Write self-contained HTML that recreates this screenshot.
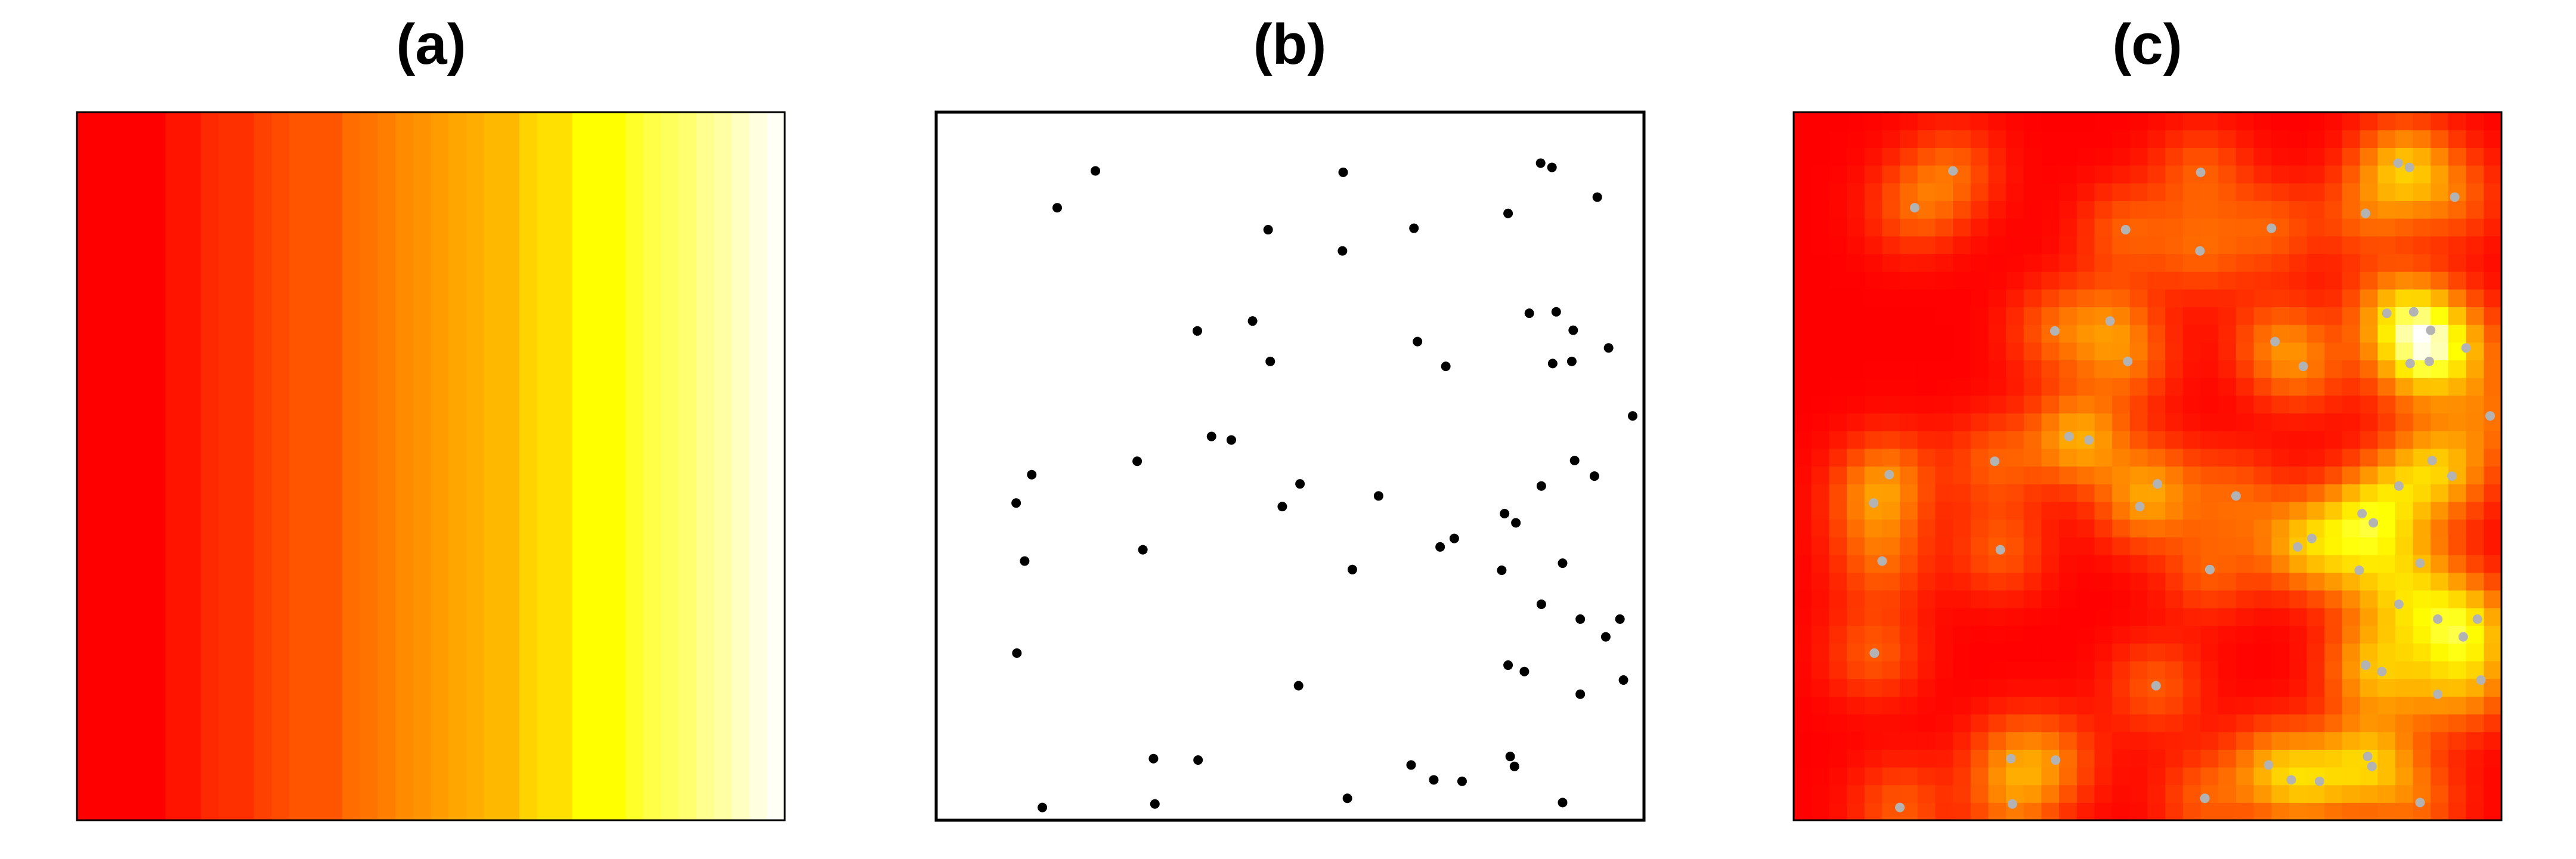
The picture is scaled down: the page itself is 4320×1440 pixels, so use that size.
<!DOCTYPE html>
<html><head><meta charset="utf-8"><style>html,body{margin:0;padding:0;background:#fff}svg{display:block}</style></head>
<body>
<svg id="fig" width="4320" height="1440" viewBox="0 0 4320 1440" xmlns="http://www.w3.org/2000/svg">
<text x="723" y="107" text-anchor="middle" font-family="Liberation Sans, sans-serif" font-weight="bold" font-size="96">(a)</text>
<text x="2163" y="107" text-anchor="middle" font-family="Liberation Sans, sans-serif" font-weight="bold" font-size="96">(b)</text>
<text x="3601" y="107" text-anchor="middle" font-family="Liberation Sans, sans-serif" font-weight="bold" font-size="96">(c)</text>
<g id="pa"></g>
<g id="pb"></g>
<g id="pc"></g>
</svg>
<script>
// panel (a): colour level per column (0..1)
const aLevels = [0,0,0,0,0,0.06,0.06,0.12,0.14,0.14,0.19,0.22,0.25,0.25,0.25,0.32,0.34,0.37,0.41,0.43,0.46,0.49,0.51,0.54,0.54,0.62,0.66,0.66,0.75,0.75,0.75,0.79,0.82,0.84,0.86,0.89,0.91,0.94,0.97,0.99];
// point pattern (unit square), shared by (b) and (c)
const ptX = [.225,.171,.575,.854,.870,.934,.808,.469,.675,.574,.838,.876,.900,.950,.369,.447,.680,.472,.720,.871,.898,.984,.389,.417,.284,.902,.135,.930,.514,.855,.113,.625,.489,.803,.819,.732,.712,.292,.125,.588,.799,.885,.855,.910,.966,.946,.114,.808,.831,.971,.512,.910,.307,.370,.671,.811,.817,.703,.743,.150,.309,.581,.885];
const ptY = [.917,.865,.915,.928,.922,.880,.857,.834,.836,.804,.716,.718,.692,.667,.691,.705,.676,.648,.641,.645,.648,.571,.542,.537,.507,.508,.488,.486,.475,.472,.448,.458,.443,.433,.420,.398,.386,.382,.366,.354,.353,.363,.305,.284,.284,.259,.236,.219,.210,.198,.190,.178,.087,.085,.078,.090,.076,.057,.055,.018,.023,.031,.025];
const NGRID = 40;
const BW = 0.047;

const NS = 'http://www.w3.org/2000/svg';
function heat(t){
  t=Math.max(0,Math.min(1,t));
  if(t<=0.75){const g=Math.round(255*t/0.75);return `rgb(255,${g},0)`;}
  const b=Math.round(255*(t-0.75)/0.25);return `rgb(255,255,${b})`;
}
function mk(tag,attrs,parent){const e=document.createElementNS(NS,tag);for(const k in attrs)e.setAttribute(k,attrs[k]);parent.appendChild(e);return e;}
const Y0=188,SIZE=1187;
function axis(x0){return {x:v=>x0+v*SIZE,y:v=>Y0+(1-v)*SIZE};}

// panel a
const A=axis(129), pa=document.getElementById('pa');
const cw=1/aLevels.length;
aLevels.forEach((t,i)=>{
  const r=mk('rect',{x:A.x(i*cw),y:A.y(1),width:A.x((i+1)*cw)-A.x(i*cw)+0.6,height:SIZE,fill:heat(t)},pa);
  
  
});
const fa=mk('rect',{x:A.x(0),y:A.y(1),width:SIZE,height:SIZE,fill:'none',stroke:'#000','stroke-width':3},pa);



// panel b
const B=axis(1570), pb=document.getElementById('pb');
const fb=mk('rect',{x:B.x(0),y:B.y(1),width:SIZE,height:SIZE,fill:'none',stroke:'#000','stroke-width':5},pb);


ptX.forEach((x,i)=>{
  const c=mk('circle',{cx:B.x(x),cy:B.y(ptY[i]),r:8,fill:'#000'},pb);
  
  
});

// panel c: kernel density of the points
const C=axis(3008), pc=document.getElementById('pc');
const dens=[];let mx=0,mn=Infinity;
for(let j=0;j<NGRID;j++){for(let i=0;i<NGRID;i++){
  const gx=(i+0.5)/NGRID, gy=(j+0.5)/NGRID;let s=0;
  for(let k=0;k<ptX.length;k++){const dx=gx-ptX[k],dy=gy-ptY[k];s+=Math.exp(-(dx*dx+dy*dy)/(2*BW*BW));}
  dens.push(s);mx=Math.max(mx,s);mn=Math.min(mn,s);
}}
const g=1/NGRID;
for(let j=0;j<NGRID;j++){for(let i=0;i<NGRID;i++){
  const t=(dens[j*NGRID+i]-mn)/(mx-mn);
  const r=mk('rect',{x:C.x(i*g),y:C.y((j+1)*g),width:C.x((i+1)*g)-C.x(i*g)+0.6,height:C.y(j*g)-C.y((j+1)*g)+0.6,fill:heat(t)},pc);
  
  
}}
ptX.forEach((x,i)=>{
  const c=mk('circle',{cx:C.x(x),cy:C.y(ptY[i]),r:8,fill:'#b3b3b3'},pc);
  
  
});
const fc=mk('rect',{x:C.x(0),y:C.y(1),width:SIZE,height:SIZE,fill:'none',stroke:'#000','stroke-width':3},pc);


</script>
</body></html>
